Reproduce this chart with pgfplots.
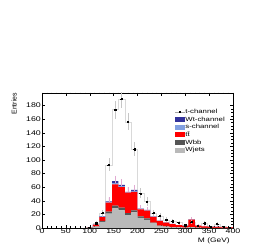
\documentclass[border=0pt]{standalone}
\usepackage{fontspec}
\usepackage{pgfplots}
\usepackage{pgfplotstable}
\pgfplotsset{compat=1.18}
\setmainfont{Liberation Sans}
\newfontfamily\rf[FakeStretch=1.3]{Liberation Sans}
\definecolor{wjcol}{RGB}{185,185,185}
\definecolor{wbbcol}{RGB}{85,85,85}
\definecolor{ttcol}{RGB}{255,0,0}
\definecolor{scol}{RGB}{130,160,225}
\definecolor{wtcol}{RGB}{50,50,155}
\definecolor{errcol}{RGB}{225,170,210}

\pgfplotstableread{
x       wj   wbb  tt    s    wt   err
93.333  0.5  0.1  0.5   0    0    0
100     0.5  0.1  0.5   0    0    1
113.333 2    0.5  2.5   0.3  0.2  2.5
126.667 9    1.5  5.5   0.7  0.6  4
140     21   3    13.5  1    0.5  6
153.333 29   4    31    2    3    8
166.667 26   4    30    1.5  2    8
180     19   3    30    0.5  0.5  7
193.333 23   3    27    1.5  1.5  7.5
206.667 15   2    10.5  0.5  0.5  5
220     12   2    11.5  0.5  0.5  5
233.333 7    1    8.5   0.3  0.3  4
246.667 3    0.5  7     0.3  0.2  3
260     2    0.3  5.5   0.2  0.2  3
273.333 1    0.2  4.5   0.1  0.1  2.5
286.667 0.8  0.2  3.2   0.1  0.1  2
300     0.5  0.1  2.5   0.1  0    2
313.333 1    0.3  11    0.2  0.3  3.5
326.667 0.4  0.1  3     0.1  0    2
340     0.3  0    2     0    0    1.5
353.333 0.2  0    1.5   0    0    1.2
366.667 0.2  0    1.5   0    0    1.2
380     0    0    1     0    0    1
393.333 0    0    0.8   0    0    1
400     0    0    0.8   0    0    0
}\stack

\pgfplotstableread{
x       t    e
100     1    1
113.333 7    2.6
126.667 22   4.7
140     93   9.6
153.333 174  13.2
166.667 190  13.8
180     156  12.5
193.333 116  10.8
206.667 51   7.1
220     39   6.2
233.333 22   4.7
246.667 18   4.2
260     12   3.5
273.333 10   3.2
286.667 8    2.8
300     4    2
313.333 9    3
326.667 3    1.7
340     7    2.6
353.333 2    1.4
366.667 6    2.4
380     2    1.4
393.333 1    1
}\tch

\pgfplotstableread{
x       t
93.333  1
100     1
113.333 7
126.667 22
140     93
153.333 174
166.667 190
180     156
193.333 116
206.667 51
220     39
233.333 22
246.667 18
260     12
273.333 10
286.667 8
300     4
313.333 9
326.667 3
340     7
353.333 2
366.667 6
380     2
393.333 1
400     1
}\tchpad

\pgfplotsset{base/.style={scale only axis, width=191bp, height=135.3bp,
  xmin=0, xmax=400, ymin=0, ymax=199, at={(0,0)}, anchor=south west}}

\begin{document}
\begin{tikzpicture}
% t-channel outline
\begin{axis}[base, hide axis]
\addplot[const plot mark mid, gray!30, line width=0.4pt] table[x=x,y=t]{\tchpad};
\end{axis}
% stack
\begin{axis}[base, stack plots=y,
  axis line style={line width=0.4pt},
  tick align=inside,
  xtick={0,50,...,400}, ytick={0,20,...,180},
  minor x tick num=4, minor y tick num=3,
  major tick length=3bp, minor tick length=1.5bp,
  tick style={black, line width=0.35pt},
  /pgf/number format/assume math mode=true,
  xticklabel style={font=\rf\fontsize{6.8}{7}\selectfont, inner sep=1pt},
  yticklabel style={font=\rf\fontsize{6.8}{7}\selectfont, inner sep=1pt},
  reverse legend,
  legend cell align=left,
  legend style={draw=none, fill=none, at={(0.693,0.883)}, anchor=north west,
    font=\rf\fontsize{6}{6}\selectfont, inner sep=0pt, row sep=1.4bp,
    nodes={inner sep=0.5pt, text height=4.2bp, text depth=1.1bp}},
]
\addplot[fill=wjcol, draw=none, const plot mark mid,
  legend image code/.code={\fill[wjcol] (0bp,-2.5bp) rectangle (10bp,2.5bp);}]
  table[x=x,y=wj]{\stack} \closedcycle;
\addlegendentry{Wjets}
\addplot[fill=wbbcol, draw=none, const plot mark mid,
  legend image code/.code={\fill[wbbcol] (0bp,-2.5bp) rectangle (10bp,2.5bp);}]
  table[x=x,y=wbb]{\stack} \closedcycle;
\addlegendentry{Wbb}
\addplot[fill=ttcol, draw=none, const plot mark mid,
  legend image code/.code={\fill[ttcol] (0bp,-2.5bp) rectangle (10bp,2.5bp);}]
  table[x=x,y=tt]{\stack} \closedcycle;
\addlegendentry{t\={t}}
\addplot[fill=scol, draw=none, const plot mark mid,
  legend image code/.code={\fill[scol] (0bp,-2.5bp) rectangle (10bp,2.5bp);}]
  table[x=x,y=s]{\stack} \closedcycle;
\addlegendentry{s-channel}
\addplot[fill=wtcol, draw=none, const plot mark mid,
  legend image code/.code={\fill[wtcol] (0bp,-2.5bp) rectangle (10bp,2.5bp);},
  error bars/.cd, y dir=both, y explicit, error mark=none,
  error bar style={errcol, line width=0.5pt}]
  table[x=x,y=wt,y error=err]{\stack} \closedcycle;
\addlegendentry{Wt-channel}
\addlegendimage{legend image code/.code={\draw[gray!70, line width=0.4pt] (0bp,0bp)--(10bp,0bp); \fill[black] (4.2bp,-0.6bp) rectangle (5.8bp,0.6bp);}}
\addlegendentry{t-channel}
\end{axis}
% t-channel points
\begin{axis}[base, hide axis]
\addplot[draw=none, mark=none, error bars/.cd, y dir=both, y explicit, error mark=none,
  error bar style={gray!45, line width=0.5pt}] table[x=x,y=t,y error=e]{\tch};
\addplot[draw=none, mark=square*, mark size=0.6bp, mark options={black, draw=none}, 
  error bars/.cd, x dir=both, x fixed=3, error mark=none,
  error bar style={black, line width=0.4pt}] table[x=x,y=t]{\tch};
\end{axis}
\node[font=\rf\fontsize{6.5}{8}\selectfont, anchor=base east, inner sep=0pt] at (188bp,-14bp) {M (GeV)};
\node[rotate=90, anchor=south east, font=\fontsize{7}{8}\selectfont, inner sep=0pt] at (-25bp,135.3bp) {Entries};
\pgfresetboundingbox
\useasboundingbox (-42bp,-17bp) rectangle (225bp,228bp);
\end{tikzpicture}
\end{document}
